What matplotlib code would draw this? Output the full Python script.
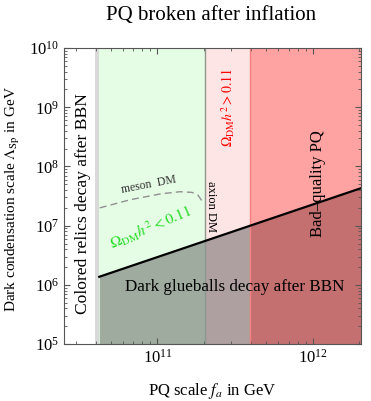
import numpy as np
import matplotlib.pyplot as plt

plt.rcParams['font.family'] = 'Liberation Serif'
plt.rcParams['mathtext.fontset'] = 'stix'

# region boundaries in f_a (GeV)
fa_min, fa_max = 2.5e10, 2.05e12
fa_stripe = 3.98e10     # start of grey stripe
fa_relic = 4.22e10      # colored relics bound
fa_axion = 2.03e11      # axion DM line
fa_badq = 3.95e11       # bad-quality PQ bound

# glueball line (Lambda vs f_a)
glue_fa = [4.22e10, 2.05e12]
glue_lam = [1.37e6, 4.3e7]

# meson DM dashed curve
meson_fa = [4.25e10, 6.7e10, 1.05e11, 1.4e11, 1.67e11, 1.83e11, 1.97e11]
meson_lam = [2.0e7, 2.75e7, 3.45e7, 3.75e7, 3.65e7, 3.25e7, 2.45e7]

fig = plt.figure(figsize=(3.71, 4.01), dpi=100)
ax = fig.add_axes([0.1725, 0.142, 0.8005, 0.738])
ax.set_xscale('log')
ax.set_yscale('log')
ax.set_xlim(fa_min, fa_max)
ax.set_ylim(1e5, 1e10)

ax.axvspan(fa_stripe, fa_relic, color='#d9d9d9', lw=0)
ax.axvspan(fa_relic, fa_axion, color='#e5fce5', lw=0)
ax.axvspan(fa_axion, fa_badq, color='#fde5e5', lw=0)
ax.axvspan(fa_badq, fa_max, color='#fea2a2', lw=0)

# shading below glueball line
xs = np.logspace(np.log10(glue_fa[0]), np.log10(glue_fa[1]), 200)
for lo, hi, c in [(fa_relic, fa_axion, '#a0aba0'), (fa_axion, fa_badq, '#aea0a0'),
                  (fa_badq, fa_max, '#c57070')]:
    m = (xs >= lo) & (xs <= hi)
    xx = np.concatenate([[lo], xs[m], [hi]])
    yy = 10 ** np.interp(np.log10(xx), np.log10(glue_fa), np.log10(glue_lam))
    ax.fill_between(xx, 1e5, yy, color=c, lw=0)

ax.axvline(fa_axion, color='#8f968f', lw=1)
ax.axvline(fa_badq, color='#f28080', lw=1)
ax.plot(glue_fa, glue_lam, color='black', lw=1.6)
ax.plot(meson_fa, meson_lam, color='#909090', lw=1, ls=(0, (5, 3)))

ax.text(3.3e10, 2.4e7, 'Colored relics decay after BBN', rotation=90,
        ha='center', va='center', fontsize=12.6)
ax.text(2.85e11, 1.0e9, r'$\Omega_{\rm DM}h^2 > 0.11$', rotation=90,
        ha='center', va='center', fontsize=10, color='red')
ax.text(1.08e12, 5.1e7, 'Bad\u2013quality PQ', rotation=90,
        ha='center', va='center', fontsize=12)
ax.text(8.8e10, 4.9e7, 'meson  DM', rotation=11,
        ha='center', va='center', fontsize=8.5, color='#333333')
ax.text(2.2e11, 2.1e7, 'axion DM', rotation=-90,
        ha='center', va='center', fontsize=9)
ax.text(9.0e10, 9.5e6, r'$\Omega_{\rm DM}h^2 < 0.11$', rotation=23,
        ha='center', va='center', fontsize=11, color='#22dd22')
ax.text(3.16e11, 9.2e5, 'Dark glueballs decay after BBN',
        ha='center', va='center', fontsize=12.3)

ax.tick_params(which='both', direction='in', top=True, right=True,
               labelsize=12, color='#555555')
ax.tick_params(which='major', length=4)
ax.tick_params(which='minor', length=2)
for s in ax.spines.values():
    s.set_color('#555555')

ax.set_xlabel(r'PQ scale $f_a$ in GeV', fontsize=12, labelpad=10.5)
fig.text(13 / 371, 1 - 199 / 401, r'Dark condensation scale $\Lambda_{\rm Sp}$ in GeV',
         rotation=90, ha='center', va='center', fontsize=11)
fig.text(0.57, 0.962, 'PQ broken after inflation', ha='center', va='center', fontsize=15)

fig.savefig('out.png', dpi=100)
